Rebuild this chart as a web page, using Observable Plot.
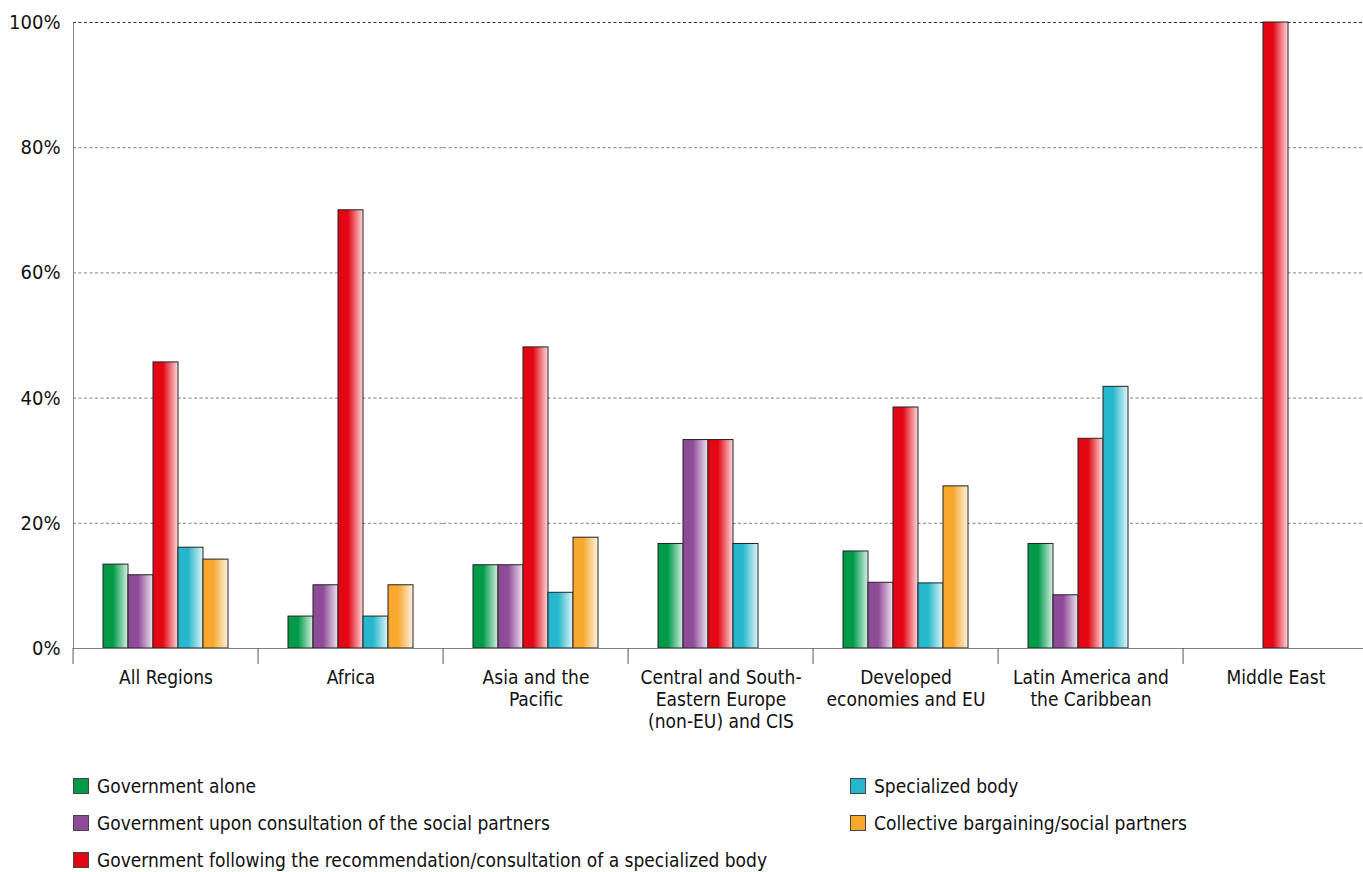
<!DOCTYPE html>
<html>
<head>
<meta charset="utf-8">
<script src="https://cdn.jsdelivr.net/npm/d3@7"></script>
<script src="https://cdn.jsdelivr.net/npm/@observablehq/plot@0.6"></script>
<style>
  html, body { margin: 0; padding: 0; background: #fff; overflow: hidden; }
  #wrap {
    position: relative; width: 1363px; height: 872px; overflow: hidden;
    font-family: "Liberation Sans Narrow", "DejaVu Sans Condensed", "Roboto Condensed", sans-serif;
  }
  #chart { position: absolute; left: 0; top: 0; }
  #chart svg { max-width: none !important; }
  .legend-item {
    position: absolute; display: flex; align-items: center; white-space: nowrap;
    font-size: 19px; line-height: 24px; color: #111;
  }
  .legend-item .sw {
    width: 16px; height: 16px; box-sizing: border-box; border: 1px solid #444; margin-right: 8px;
  }
</style>
</head>
<body>
<div id="wrap">
  <div id="chart"></div>
</div>
<script>
// Regions (facets) and their axis labels
const regions = [
  "All Regions",
  "Africa",
  "Asia and the Pacific",
  "Central and South-Eastern Europe (non-EU) and CIS",
  "Developed economies and EU",
  "Latin America and the Caribbean",
  "Middle East"
];
const regionLabels = [
  "All Regions",
  "Africa",
  "Asia and the\nPacific",
  "Central and South-\nEastern Europe\n(non-EU) and CIS",
  "Developed\neconomies and EU",
  "Latin America and\nthe Caribbean",
  "Middle East"
];

// Minimum wage-setting mechanisms
const seriesNames = [
  "Government alone",
  "Government upon consultation of the social partners",
  "Government following the recommendation/consultation of a specialized body",
  "Specialized body",
  "Collective bargaining/social partners"
];
const seriesColors = ["#009a49", "#8e4b97", "#e30613", "#27b7cc", "#f7a82d"];

// Share of countries (%) per region, one array per mechanism
const governmentAlone        = [13.4,  5.1, 13.3, 16.7, 15.5, 16.7,   0];
const governmentConsultation = [11.7, 10.1, 13.3, 33.3, 10.5,  8.5,   0];
const governmentSpecialized  = [45.7, 70.0, 48.1, 33.3, 38.5, 33.5, 100];
const specializedBody        = [16.1,  5.1,  8.9, 16.7, 10.4, 41.8,   0];
const collectiveBargaining   = [14.2, 10.1, 17.7,    0, 25.9,    0,   0];

const yTicks = [0, 20, 40, 60, 80, 100];

const seriesValues = [governmentAlone, governmentConsultation, governmentSpecialized, specializedBody, collectiveBargaining];
const rows = regions.flatMap((region, i) =>
  seriesNames.map((series, j) => ({region, series, value: seriesValues[j][i]}))
);

// Horizontal shading gradients used as bar fills
const defs = d3.select("body").append("svg")
  .attr("width", 0).attr("height", 0)
  .style("position", "absolute")
  .append("defs");
seriesColors.forEach((c, i) => {
  const g = defs.append("linearGradient")
    .attr("id", `bar-grad-${i}`)
    .attr("x1", "0").attr("x2", "1").attr("y1", "0").attr("y2", "0");
  g.append("stop").attr("offset", "0").attr("stop-color", c);
  g.append("stop").attr("offset", "0.4").attr("stop-color", c);
  g.append("stop").attr("offset", "1").attr("stop-color", d3.interpolateRgb(c, "#fff")(0.85));
});

const fontFamily = '"Liberation Sans Narrow", "DejaVu Sans Condensed", "Roboto Condensed", sans-serif';
const W = 1372, ML = 70, MR = 1;
const step = (W - ML - MR) / regions.length;

const chart = Plot.plot({
  width: W,
  height: 745,
  marginLeft: ML,
  marginRight: MR,
  marginTop: 22,
  marginBottom: 97,
  style: {fontFamily, fontSize: "19px", color: "#111", background: "transparent", maxWidth: "none"},
  fx: {domain: regions, padding: 0, axis: null},
  x: {domain: seriesNames, paddingInner: 0, paddingOuter: 1.07, axis: null},
  y: {domain: [0, 100], axis: null},
  color: {domain: seriesNames, range: seriesNames.map((_, i) => `url(#bar-grad-${i})`)},
  marks: [
    Plot.gridY([20, 40, 60, 80], {stroke: "#808080", strokeOpacity: 1, strokeDasharray: "3,2.5"}),
    Plot.gridY([100], {stroke: "#333", strokeOpacity: 1, strokeDasharray: "3,2.5"}),
    Plot.barY(rows.filter(d => d.value > 0), {
      fx: "region", x: "series", y: "value", fill: "series",
      stroke: "#222", strokeWidth: 1
    }),
    Plot.ruleY([0], {stroke: "#808080"}),
    Plot.frame({anchor: "left", facetAnchor: "left", stroke: "#808080"}),
    Plot.axisY(yTicks, {tickSize: 0, tickPadding: 13, tickFormat: d => d + "%", fontSize: 20, label: null}),
    Plot.axisFx({anchor: "bottom", tickSize: 16, dx: -step / 2, tickFormat: () => "", stroke: "#555", label: null}),
    Plot.axisFx({
      anchor: "bottom", tickSize: 0, tickPadding: 20, label: null,
      tickFormat: d => regionLabels[regions.indexOf(d)], fontSize: 19, lineHeight: 1.15
    })
  ]
});
chart.style.maxWidth = "none";
document.getElementById("chart").append(chart);

// Legend: three rows, filled column by column
const legendCols = [80, 857];
const legendRows = [774, 811, 848];
const wrap = document.getElementById("wrap");
seriesNames.forEach((name, i) => {
  const item = document.createElement("div");
  item.className = "legend-item";
  item.style.left = (legendCols[Math.floor(i / 3)] - 7) + "px";
  item.style.top = legendRows[i % 3] + "px";
  const sw = document.createElement("span");
  sw.className = "sw";
  sw.style.background = seriesColors[i];
  item.append(sw, document.createTextNode(name));
  wrap.append(item);
});
</script>
</body>
</html>
